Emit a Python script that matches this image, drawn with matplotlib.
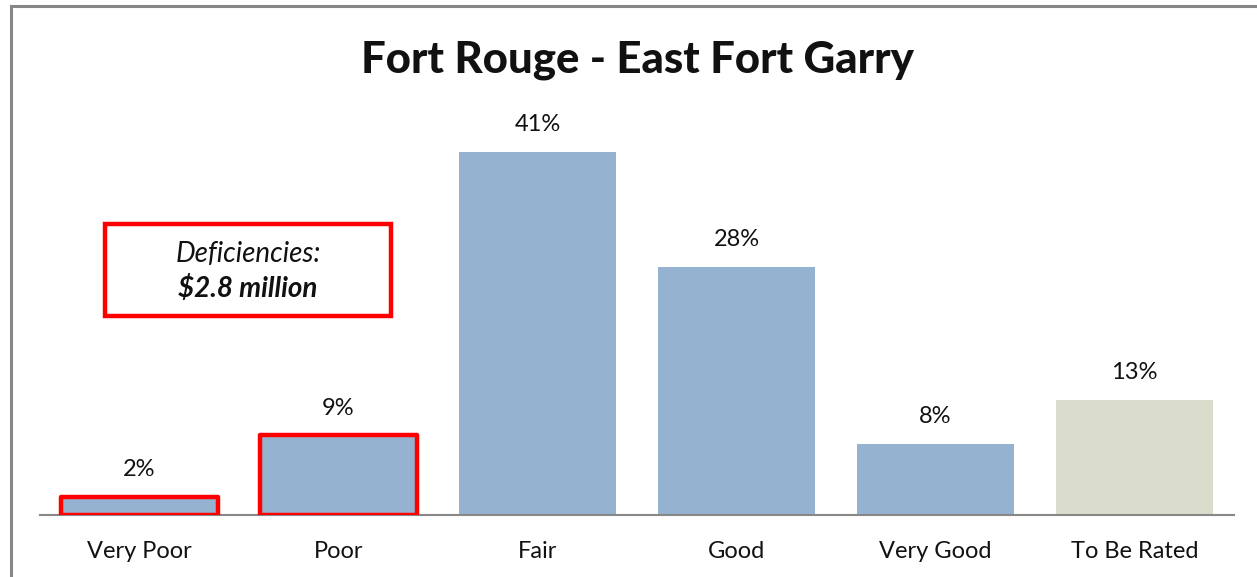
import matplotlib
matplotlib.use('Agg')
import matplotlib.pyplot as plt
from matplotlib.lines import Line2D
from matplotlib.patches import Rectangle

plt.rcParams['font.family'] = ['Lato', 'DejaVu Sans']

# chart data
categories = ['Very Poor', 'Poor', 'Fair', 'Good', 'Very Good', 'To Be Rated']
values = [2, 9, 41, 28, 8, 13]
labels = ['2%', '9%', '41%', '28%', '8%', '13%']
highlighted = ['Very Poor', 'Poor']

W, H = 1257, 577
fig = plt.figure(figsize=(W / 100, H / 100), dpi=100)

# outer frame (left and top lines only are visible)
fig.add_artist(Line2D([11 / W, 11 / W], [0, 1 - 6 / H], transform=fig.transFigure,
                      color='#878787', lw=2.2))
fig.add_artist(Line2D([11 / W, 1], [1 - 6 / H, 1 - 6 / H], transform=fig.transFigure,
                      color='#878787', lw=2.2))

px_per_pct = 8.85
ax_bottom = 515
ax_top = 100
ax = fig.add_axes([40 / W, (H - ax_bottom) / H, (1234 - 40) / W, (ax_bottom - ax_top) / H])
ax.set_xlim(-0.5, len(categories) - 0.5)
ax.set_ylim(0, (ax_bottom - ax_top) / px_per_pct)

colors = ['#dadccc' if c == 'To Be Rated' else '#95b3d0' for c in categories]
bars = ax.bar(range(len(categories)), values, width=0.79, color=colors, zorder=2)
for bar, cat in zip(bars, categories):
    if cat in highlighted:
        bar.set_edgecolor('#ff0000')
        bar.set_linewidth(3.2)
        bar.set_joinstyle('round')
        bar.set_zorder(4)

for i, (v, lab) in enumerate(zip(values, labels)):
    ax.text(i, v + 1.9, lab, ha='center', va='bottom', fontsize=17, color='#111111')

for s in ['top', 'right', 'left']:
    ax.spines[s].set_visible(False)
ax.spines['bottom'].set_color('#888888')
ax.spines['bottom'].set_linewidth(1.5)
ax.spines['bottom'].set_zorder(3)
ax.set_yticks([])
ax.set_xticks(range(len(categories)))
ax.set_xticklabels(categories, fontsize=17, color='#111111')
ax.tick_params(axis='x', length=0, pad=19)

fig.text(637 / W, 1 - 60 / H, 'Fort Rouge - East Fort Garry', ha='center', va='center',
         fontsize=31.5, fontweight='black', color='#111111')

# deficiencies callout
fig.add_artist(Rectangle((105 / W, 1 - 316 / H), 286 / W, 92 / H, transform=fig.transFigure,
                         facecolor='white', edgecolor='#ff0000', lw=3.2))
fig.text(248 / W, 1 - 254 / H, 'Deficiencies:', ha='center', va='center',
         fontsize=20, style='italic', color='#111111')
fig.text(248 / W, 1 - 289 / H, '$2.8 million', ha='center', va='center',
         fontsize=20, style='italic', fontweight='bold', color='#111111')

fig.savefig('out.png', dpi=100)
